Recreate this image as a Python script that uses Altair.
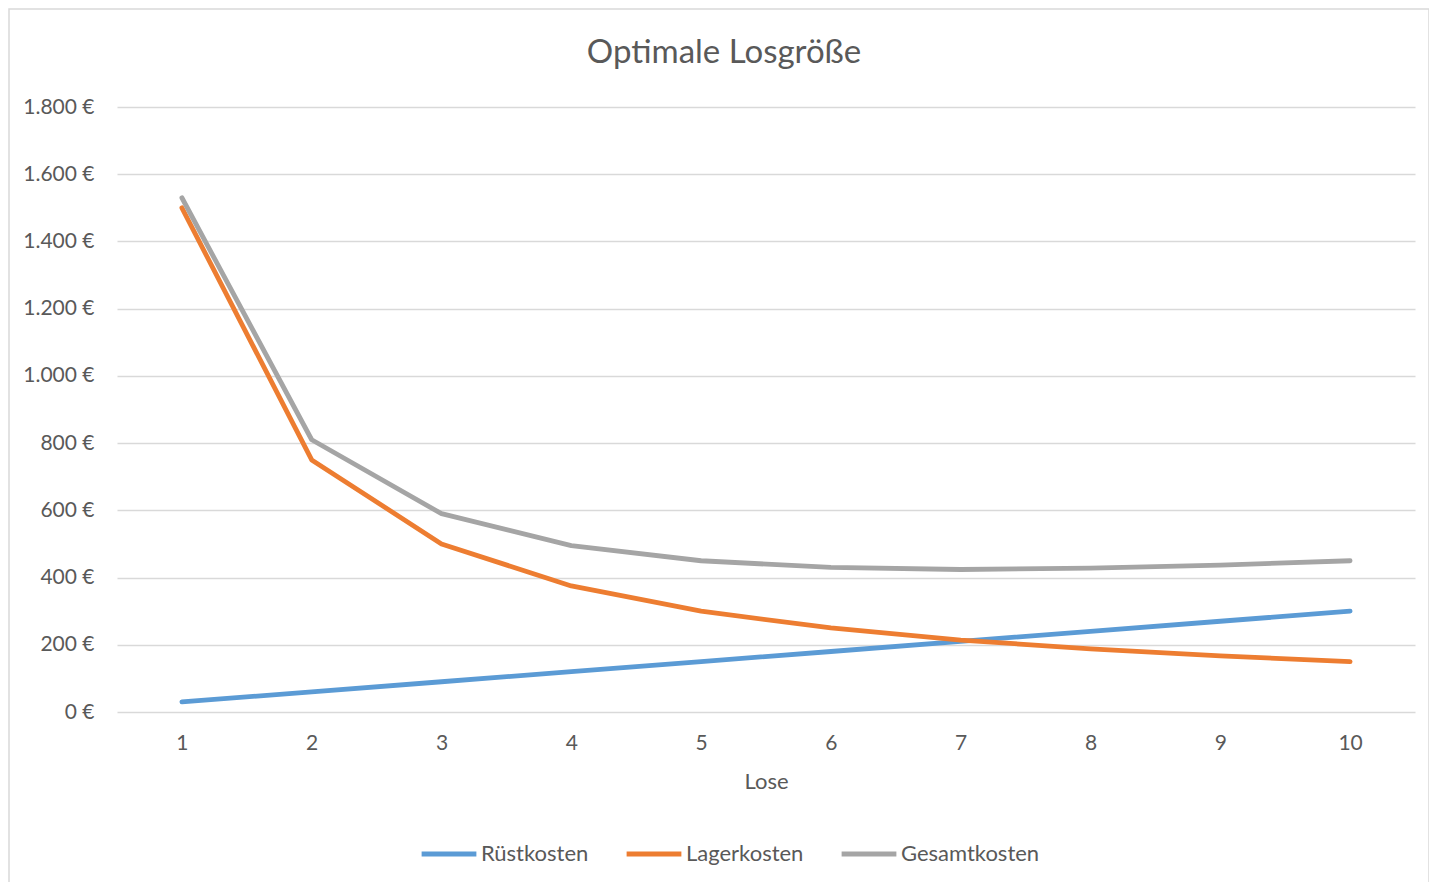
import altair as alt
import pandas as pd

lose = [1, 2, 3, 4, 5, 6, 7, 8, 9, 10]
ruestkosten = [30, 60, 90, 120, 150, 180, 210, 240, 270, 300]
lagerkosten = [1500, 750, 500, 375, 300, 250, 214, 188, 167, 150]
gesamtkosten = [1530, 810, 590, 495, 450, 430, 424, 428, 437, 450]
series = ["Rüstkosten", "Lagerkosten", "Gesamtkosten"]
colors = ["#5B9BD5", "#ED7D31", "#A5A5A5"]
y_ticks = [0, 200, 400, 600, 800, 1000, 1200, 1400, 1600, 1800]
title_text = "Optimale Losgröße"

rows = []
for name, vals in zip(series, [ruestkosten, lagerkosten, gesamtkosten]):
    for l, v in zip(lose, vals):
        rows.append({"Lose": l, "Kosten": v, "Serie": name, "order": series.index(name)})
df = pd.DataFrame(rows)

FONT = "Lato"
GREY = "#595959"
W, H = 1298, 605

lines = alt.Chart(df).mark_line(strokeWidth=4.8, strokeCap="round", strokeJoin="round").encode(
    x=alt.X("Lose:O", title="Lose",
            scale=alt.Scale(type="point", padding=0.5),
            axis=alt.Axis(labelAngle=0, ticks=False, domain=False, grid=False,
                          labelFontSize=21, labelColor=GREY, labelFont=FONT, labelPadding=20,
                          titleFontSize=22, titleColor=GREY, titleFont=FONT, titleFontWeight="normal",
                          titlePadding=18)),
    y=alt.Y("Kosten:Q", title=None,
            scale=alt.Scale(domain=[0, 1800], nice=False),
            axis=alt.Axis(values=y_ticks, ticks=False, domain=False, grid=True,
                          gridColor="#d9d9d9", gridWidth=1.5,
                          labelFontSize=21, labelColor=GREY, labelFont=FONT, labelPadding=23,
                          labelExpr="replace(format(datum.value, ',d'), ',', '.') + ' €'")),
    color=alt.Color("Serie:N", scale=alt.Scale(domain=series, range=colors),
                    sort=series,
                    legend=alt.Legend(title=None, orient="none", direction="horizontal",
                                      legendX=302, legendY=717,
                                      symbolType="stroke", symbolStrokeWidth=4.8, symbolSize=3000,
                                      labelFontSize=22, labelColor=GREY, labelFont=FONT,
                                      labelOffset=2, columnPadding=28)),
    order=alt.Order("order:Q"),
)

one = pd.DataFrame({"t": [title_text]})

border = alt.Chart(one).mark_rect(
    fill=None, stroke="#d9d9d9", strokeWidth=1.5
).encode(
    x=alt.value(-108), x2=alt.value(1312),
    y=alt.value(-98), y2=alt.value(790),
)

title = alt.Chart(one).mark_text(
    font=FONT, fontSize=33, color=GREY, align="center", baseline="middle"
).encode(
    text="t:N", x=alt.value(607), y=alt.value(-54),
)

chart = alt.layer(border, title, lines).properties(
    width=W, height=H,
    padding={"left": 109, "top": 99, "right": 14, "bottom": 170},
    autosize=alt.AutoSizeParams(type="none"),
).configure_view(stroke=None)

chart.save("out.html", embed_options={"renderer": "svg", "actions": False})
